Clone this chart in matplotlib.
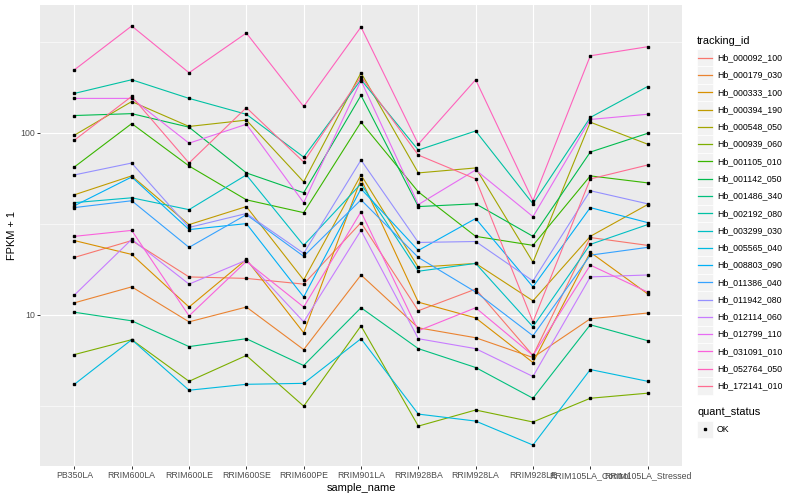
import math
import matplotlib.pyplot as plt
from matplotlib.lines import Line2D
from matplotlib.patches import Rectangle

plt.rcParams['font.family'] = ['Liberation Sans', 'DejaVu Sans']

samples = ['PB350LA', 'RRIM600LA', 'RRIM600LE', 'RRIM600SE', 'RRIM600PE', 'RRIM901LA',
           'RRIM928BA', 'RRIM928LA', 'RRIM928LE', 'RRIM105LA_Control', 'RRIM105LA_Stressed']

tracking_ids = ['Hb_000092_100', 'Hb_000179_030', 'Hb_000333_100', 'Hb_000394_190',
                'Hb_000548_050', 'Hb_000939_060', 'Hb_001105_010', 'Hb_001142_050',
                'Hb_001486_340', 'Hb_002192_080', 'Hb_003299_030', 'Hb_005565_040',
                'Hb_008803_090', 'Hb_011386_040', 'Hb_011942_080', 'Hb_012114_060',
                'Hb_012799_110', 'Hb_031091_010', 'Hb_052764_050', 'Hb_172141_010']

# FPKM + 1 for each gene, one value per sample (same order as samples)
hb_000092_100 = [20.6, 25.5, 16.1, 15.8, 14.7, 32.0, 10.5, 13.8, 5.96, 26.5, 24.0]
hb_000179_030 = [11.6, 14.2, 9.12, 11.0, 6.42, 16.5, 8.46, 7.46, 5.81, 9.48, 10.2]
hb_000333_100 = [25.5, 21.4, 11.0, 20.1, 7.94, 55.6, 11.7, 9.59, 5.45, 22.0, 13.0]
hb_000394_190 = [45.5, 57.8, 31.2, 39.2, 15.5, 58.5, 18.2, 19.1, 11.9, 26.9, 40.2]
hb_000548_050 = [96.7, 148, 108, 117, 53.6, 213, 60.0, 63.9, 19.4, 114, 86.3]
hb_000939_060 = [6.03, 7.28, 4.30, 5.96, 3.14, 8.67, 2.44, 2.99, 2.57, 3.47, 3.70]
hb_001105_010 = [64.7, 112, 65.5, 42.7, 36.3, 114, 47.2, 26.9, 24.0, 57.8, 52.9]
hb_001142_050 = [124, 127, 107, 60.0, 46.7, 160, 39.2, 40.6, 26.9, 78.1, 99.0]
hb_001486_340 = [10.3, 9.24, 6.67, 7.37, 5.25, 10.9, 6.50, 5.12, 3.47, 8.79, 7.19]
hb_002192_080 = [164, 195, 154, 126, 73.3, 195, 80.1, 102, 40.6, 121, 179]
hb_003299_030 = [41.2, 43.8, 37.7, 58.5, 24.0, 52.3, 17.3, 19.1, 8.57, 24.3, 31.2]
hb_005565_040 = [4.14, 7.28, 3.84, 4.14, 4.19, 7.37, 2.84, 2.60, 1.92, 4.99, 4.30]
hb_008803_090 = [39.6, 57.0, 29.3, 31.6, 12.5, 49.1, 22.5, 33.7, 14.2, 38.7, 32.0]
hb_011386_040 = [38.7, 42.2, 23.4, 35.4, 20.9, 42.7, 20.6, 13.3, 7.65, 21.2, 23.4]
hb_011942_080 = [58.5, 68.0, 30.1, 35.9, 21.7, 70.6, 24.9, 25.2, 15.3, 47.9, 40.6]
hb_012114_060 = [12.8, 25.9, 14.7, 19.9, 9.12, 29.0, 7.37, 6.50, 4.57, 16.1, 16.5]
hb_012799_110 = [154, 154, 87.4, 111, 41.2, 193, 40.2, 62.3, 34.5, 118, 126]
hb_031091_010 = [26.9, 29.0, 9.84, 19.6, 11.0, 36.7, 8.15, 10.9, 5.96, 18.7, 13.3]
hb_052764_050 = [221, 385, 213, 352, 139, 380, 86.3, 195, 42.2, 264, 296]
hb_172141_010 = [90.8, 158, 68.0, 137, 68.9, 203, 75.2, 55.6, 9.12, 55.6, 66.3]

series = [hb_000092_100, hb_000179_030, hb_000333_100, hb_000394_190, hb_000548_050,
          hb_000939_060, hb_001105_010, hb_001142_050, hb_001486_340, hb_002192_080,
          hb_003299_030, hb_005565_040, hb_008803_090, hb_011386_040, hb_011942_080,
          hb_012114_060, hb_012799_110, hb_031091_010, hb_052764_050, hb_172141_010]

# ggplot2 default hue palette for 20 levels
colors = ['#F8766D', '#EA8331', '#D89000', '#C09B00', '#A3A500', '#7CAE00', '#39B600',
          '#00BB4E', '#00BF7D', '#00C1A3', '#00BFC4', '#00BAE0', '#00B0F6', '#35A2FF',
          '#9590FF', '#C77CFF', '#E76BF3', '#FA62DB', '#FF62BC', '#FF6C91']

W, H = 800, 500
fig = plt.figure(figsize=(8, 5), dpi=100)


def fx(px):
    return px / W


def fy(py):
    return 1 - py / H


# panel in pixels: left 40, right 682, top 5, bottom 466
ax = fig.add_axes([fx(40), fy(466), fx(682 - 40), (466 - 5) / H])
ax.set_facecolor('#EBEBEB')
for s in ax.spines.values():
    s.set_visible(False)

x = list(range(len(samples)))
for vals, col in zip(series, colors):
    ax.plot(x, vals, color=col, lw=0.8, zorder=2)
for vals in series:
    ax.plot(x, vals, ls='none', marker='s', ms=1.9, color='black', zorder=3)

ax.set_yscale('log')
lo = min(min(v) for v in series)
hi = max(max(v) for v in series)
llo, lhi = math.log10(lo), math.log10(hi)
pad = 0.05 * (lhi - llo)
ax.set_ylim(10 ** (llo - pad), 10 ** (lhi + pad))
ax.set_xlim(-0.6, len(samples) - 0.4)

ax.set_yticks([10, 100])
ax.set_yticklabels(['10', '100'])
ax.set_yticks([10 ** 0.5, 10 ** 1.5, 10 ** 2.5], minor=True)
ax.set_yticklabels([], minor=True)
ax.set_xticks(x)
ax.set_xticklabels(samples)

ax.grid(True, which='major', color='white', lw=0.8, zorder=0)
ax.grid(True, which='minor', axis='y', color='white', lw=0.4, zorder=0)
ax.set_axisbelow(True)
ax.tick_params(which='major', length=2, width=0.7, color='#333333', pad=1.5,
               labelsize=6.3, labelcolor='#4D4D4D')
ax.tick_params(which='minor', length=0)

fig.text(fx(361), fy(488), 'sample_name', ha='center', va='center', fontsize=7.9)
fig.text(fx(12), fy(235), 'FPKM + 1', ha='center', va='center', rotation=90, fontsize=7.9)

# legend: tracking_id
key_w, key_h = 16, 17.28
key_x = 697
first_y = 57.7
fig.text(fx(key_x), fy(40.7), 'tracking_id', ha='left', va='center', fontsize=7.9)
for i, (name, col) in enumerate(zip(tracking_ids, colors)):
    cy = first_y + i * key_h
    fig.add_artist(Rectangle((fx(key_x), fy(cy + key_h / 2)), fx(key_w), key_h / H,
                             facecolor='#F2F2F2', edgecolor='white', lw=0.5,
                             transform=fig.transFigure))
    fig.add_artist(Line2D([fx(key_x + 0.7), fx(key_x + key_w - 0.7)], [fy(cy), fy(cy)],
                          color=col, lw=0.9, transform=fig.transFigure))
    fig.text(fx(key_x + key_w + 4), fy(cy), name, ha='left', va='center', fontsize=6.3)

# legend: quant_status
fig.text(fx(key_x), fy(412.3), 'quant_status', ha='left', va='center', fontsize=7.9)
ok_y = 429.3
fig.add_artist(Rectangle((fx(key_x), fy(ok_y + key_h / 2)), fx(key_w), key_h / H,
                         facecolor='#F2F2F2', edgecolor='white', lw=0.5,
                         transform=fig.transFigure))
fig.add_artist(Line2D([fx(key_x + key_w / 2)], [fy(ok_y)], ls='none', marker='s', ms=1.9,
                      color='black', transform=fig.transFigure))
fig.text(fx(key_x + key_w + 4), fy(ok_y), 'OK', ha='left', va='center', fontsize=6.3)

fig.savefig('out.png', dpi=100)
